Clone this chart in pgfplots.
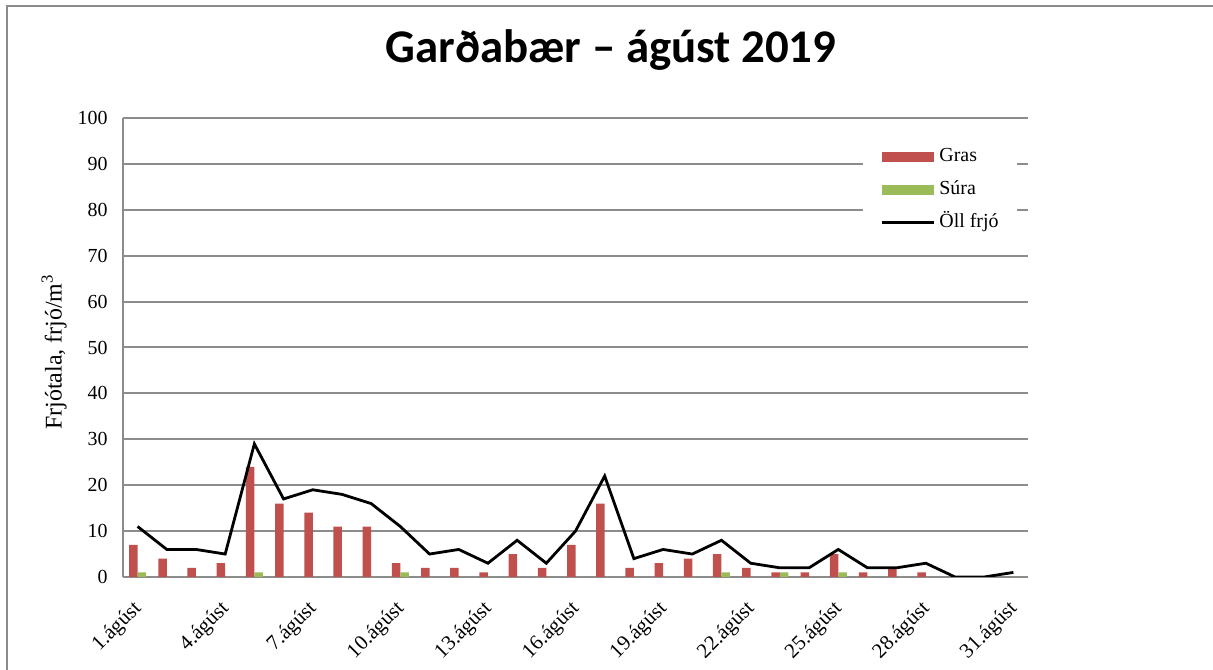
\documentclass[border=0pt]{standalone}
\usepackage{fontspec}
\setmainfont{Liberation Serif}
\newfontfamily\titlefont{Carlito}
\usepackage{pgfplots}
\usepackage{pgfplotstable}
\pgfplotsset{compat=1.18}
\definecolor{gras}{HTML}{C0504D}
\definecolor{sura}{HTML}{9BBB59}
\definecolor{gridc}{HTML}{8C8C8C}

\pgfplotstableread{
day gras sura all
1 7 1 11
2 4 0 6
3 2 0 6
4 3 0 5
5 24 1 29
6 16 0 17
7 14 0 19
8 11 0 18
9 11 0 16
10 3 1 11
11 2 0 5
12 2 0 6
13 1 0 3
14 5 0 8
15 2 0 3
16 7 0 10
17 16 0 22
18 2 0 4
19 3 0 6
20 4 0 5
21 5 1 8
22 2 0 3
23 1 1 2
24 1 0 2
25 5 1 6
26 1 0 2
27 2 0 2
28 1 0 3
29 0 0 0
30 0 0 0
31 0 0 1
}\data

\begin{document}
\begin{tikzpicture}[x=1bp,y=1bp]
\path[use as bounding box] (0,0) rectangle (1213,670);
\draw[gridc, line width=2bp] (7,0) -- (7,664) -- (1213,664);
\node[font=\titlefont\bfseries\fontsize{47}{56}\selectfont, anchor=base] at (611,607) {Garðabær – ágúst 2019};
\begin{axis}[
  at={(123bp,93bp)}, anchor=south west,
  scale only axis, width=905bp, height=459bp,
  xmin=0.5, xmax=31.5, ymin=0, ymax=100,
  ytick={0,10,...,100},
  xtick={1,4,7,10,13,16,19,22,25,28,31},
  xticklabels={1.ágúst,4.ágúst,7.ágúst,10.ágúst,13.ágúst,16.ágúst,19.ágúst,22.ágúst,25.ágúst,28.ágúst,31.ágúst},
  ymajorgrids, grid style={gridc, line width=2bp},
  axis x line*=bottom, axis y line*=left,
  axis line style={gridc, line width=2bp},
  major tick length=0pt,
  /pgf/number format/assume math mode=true,
  tick label style={font=\fontsize{20}{24}\selectfont, text=black},
  yticklabel style={anchor=east, xshift=-12bp},
  xticklabel style={font=\fontsize{21}{25}\selectfont, anchor=north east, inner sep=0pt, xshift=-6bp, yshift=-22bp, rotate=45},
  ylabel={Frjótala, frjó/m\textsuperscript{3}},
  ylabel style={font=\fontsize{24}{28}\selectfont, at={(axis description cs:-0.0762,0.49)}, anchor=center, rotate=0},
  legend style={at={(0.817,0.950)}, anchor=north west, draw=none, fill=white,
    font=\fontsize{20}{24}\selectfont, inner xsep=18bp, inner ysep=6bp,
    row sep=14bp, column sep=4bp,
    nodes={inner sep=0pt, text height=14bp, text depth=5bp}},
  legend cell align=left,
]
\addplot[ybar, bar width=8.5bp, bar shift=-4.25bp, fill=gras, draw=none,
  legend image code/.code={\fill[gras] (0bp,-5bp) rectangle (52bp,5bp);}]
  table[x=day, y=gras]{\data};
\addlegendentry{Gras}
\addplot[ybar, bar width=8.5bp, bar shift=4.25bp, fill=sura, draw=none,
  legend image code/.code={\fill[sura] (0bp,-5bp) rectangle (52bp,5bp);}]
  table[x=day, y=sura]{\data};
\addlegendentry{Súra}
\addplot[black, line width=2.8bp, mark=none,
  legend image code/.code={\draw[black, line width=2.8bp] (0bp,0bp) -- (52bp,0bp);}]
  table[x=day, y=all]{\data};
\addlegendentry{Öll frjó}
\end{axis}
\end{tikzpicture}
\end{document}
